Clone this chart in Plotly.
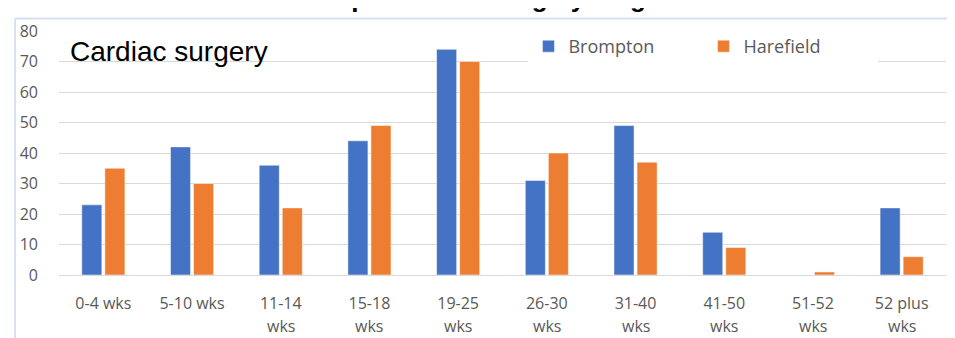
import plotly.graph_objects as go

categories = ["0-4 wks", "5-10 wks", "11-14 wks", "15-18 wks", "19-25 wks",
              "26-30 wks", "31-40 wks", "41-50 wks", "51-52 wks", "52 plus wks"]
tick_line1 = ["0-4 wks", "5-10 wks", "11-14", "15-18", "19-25",
              "26-30", "31-40", "41-50", "51-52", "52 plus"]
tick_line2 = ["", "", "wks", "wks", "wks", "wks", "wks", "wks", "wks", "wks"]
brompton = [23, 42, 36, 44, 74, 31, 49, 14, 0, 22]
harefield = [35, 30, 22, 49, 70, 40, 37, 9, 1, 6]
y_ticks = [0, 10, 20, 30, 40, 50, 60, 70, 80]

# page body has an 8px margin: work in screen pixels, convert to figure pixels
OFF = 8
W, H = 955, 338
# plot area in screen px: x 58..946, y 22..275
L = 58 - OFF
T = 22 - OFF
R = W - (946 - OFF)
B = H - (275 - OFF)
pw, ph = W - L - R, H - T - B

def px_x(sx):
    return (sx - OFF - L) / pw

def px_y(sy):
    return (H - B - (sy - OFF)) / ph

TICK_FONT = dict(family="Open Sans", size=16, color="#595959")

fig = go.Figure()
fig.add_trace(go.Bar(name="Brompton", x=categories, y=brompton,
                     marker=dict(color="#4472C4", line=dict(color="#FFFFFF", width=0.5))))
fig.add_trace(go.Bar(name="Harefield", x=categories, y=harefield,
                     marker=dict(color="#ED7D31", line=dict(color="#FFFFFF", width=0.5))))

annotations = []
for c, t2 in zip(categories, tick_line2):
    if t2:
        annotations.append(dict(x=c, xref="x", y=px_y(328), yref="paper",
                                text=t2, showarrow=False, font=TICK_FONT,
                                xanchor="center", yanchor="middle"))
annotations.append(dict(x=px_x(67), y=px_y(43), xref="paper", yref="paper",
                        text="Cardiac surgery", showarrow=False,
                        xanchor="left", yanchor="middle",
                        font=dict(family="Liberation Sans, Arial", size=28, color="#000000")))
annotations.append(dict(x=px_x(486), y=px_y(5), xref="paper", yref="paper",
                        text="<b>Number of patients waiting by length of wait</b>",
                        showarrow=False, xanchor="center", yanchor="bottom",
                        font=dict(family="Liberation Sans, Arial", size=26, color="#000000")))

frame = "#D6E0F2"
shapes = [
    dict(type="line", xref="paper", yref="paper", x0=px_x(14), x1=px_x(975),
         y0=px_y(9), y1=px_y(9), line=dict(color=frame, width=2)),
    dict(type="line", xref="paper", yref="paper", x0=px_x(14), x1=px_x(14),
         y0=px_y(9), y1=px_y(360), line=dict(color=frame, width=2)),
]

fig.update_layout(
    width=W, height=H,
    margin=dict(l=L, r=R, t=T, b=B),
    paper_bgcolor="white", plot_bgcolor="white",
    barmode="group", bargap=0.48, bargroupgap=0.13,
    showlegend=True,
    legend=dict(orientation="h", x=px_x(528), xanchor="left",
                y=px_y(38), yanchor="middle",
                bgcolor="white", entrywidth=130, entrywidthmode="pixels",
                font=dict(family="Open Sans", size=18, color="#595959"),
                itemwidth=30, traceorder="normal"),
    annotations=annotations,
    shapes=shapes,
    xaxis=dict(tickmode="array", tickvals=categories, ticktext=tick_line1,
               tickfont=TICK_FONT, showgrid=False, showline=True,
               linecolor="#D9D9D9", linewidth=1, ticks="", ticklabelstandoff=14),
    yaxis=dict(range=[0, 80], tickvals=y_ticks, tickfont=TICK_FONT,
               showgrid=True, gridcolor="#D9D9D9", gridwidth=1,
               zeroline=False, showline=False, ticks="", ticklabelstandoff=20),
)

fig.write_html("out.html")
